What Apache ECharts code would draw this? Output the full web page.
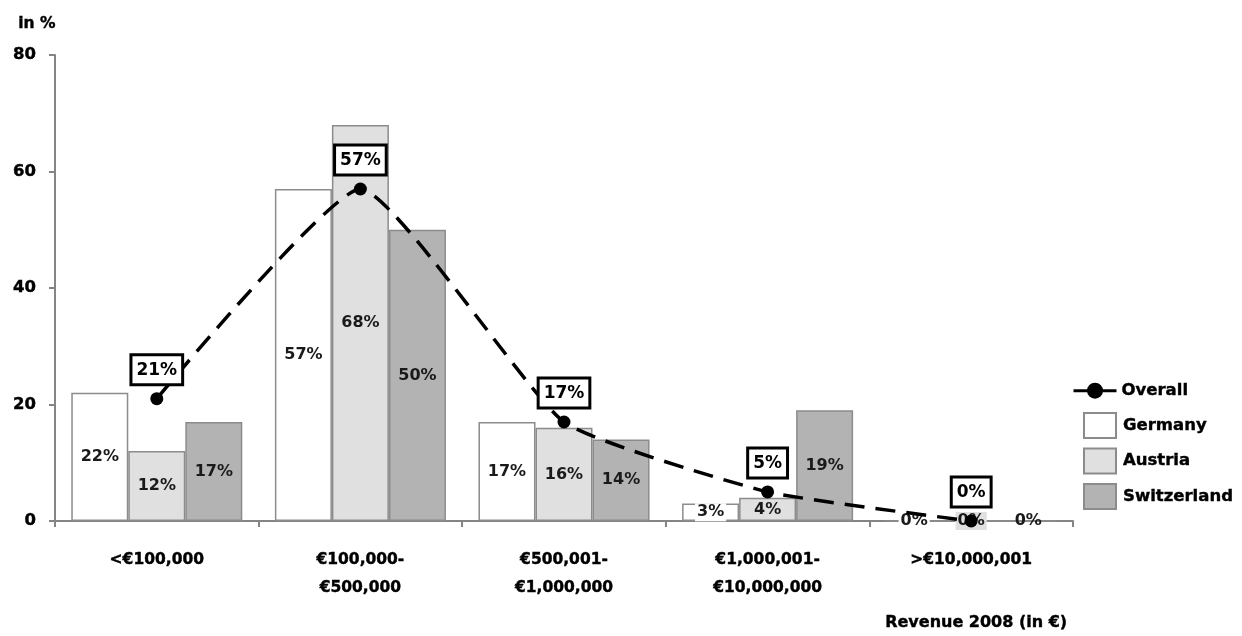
<!DOCTYPE html>
<html>
<head>
<meta charset="utf-8">
<script src="https://cdn.jsdelivr.net/npm/echarts@6/dist/echarts.min.js"></script>
<style>
  html, body { margin: 0; padding: 0; background: #fff; }
  #chart { width: 1242px; height: 636px; }
</style>
</head>
<body>
<div id="chart"></div>
<script>
// Revenue bands (x axis categories)
const categories = ['<€100,000', '€100,000-\n€500,000', '€500,001-\n€1,000,000', '€1,000,001-\n€10,000,000', '>€10,000,001'];
// Shares in % per country
const germany = [22, 57, 17, 3, 0];
const austria = [12, 68, 16, 4, 0];
const switzerland = [17, 50, 14, 19, 0];
// Overall share in %
const overall = [21, 57, 17, 5, 0];
// Y axis ticks
const yTicks = [0, 20, 40, 60, 80];

const FONT = '"DejaVu Sans", Verdana, sans-serif';
const BORDER = '#8c8c8c';
const AXIS_COLOR = '#858585';

function barSeries(name, data, color, labelBg) {
  return {
    name: name,
    type: 'bar',
    data: data,
    barGap: '0%',
    barCategoryGap: '16%',
    itemStyle: { color: color, borderColor: BORDER, borderWidth: 1.5 },
    label: {
      show: true,
      position: 'inside',
      formatter: p => p.value + '%',
      fontFamily: FONT,
      fontWeight: 'bold',
      fontSize: 16,
      color: '#1a1a1a',
      backgroundColor: labelBg,
      padding: [1, 2]
    },
    emphasis: { disabled: true }
  };
}

const chart = echarts.init(document.getElementById('chart'), null, { renderer: 'canvas' });

chart.setOption({
  animation: false,
  backgroundColor: '#ffffff',
  grid: { left: 55, right: 169, top: 55, bottom: 115, outerBoundsMode: 'none' },
  xAxis: {
    type: 'category',
    data: categories,
    axisLine: { lineStyle: { color: AXIS_COLOR, width: 2 } },
    axisTick: { show: true, length: 6, lineStyle: { color: AXIS_COLOR, width: 2 } },
    axisLabel: {
      margin: 25,
      fontFamily: FONT,
      fontWeight: 'bold',
      fontSize: 15.5,
      lineHeight: 28,
      color: '#000',
      textBorderColor: '#000',
      textBorderWidth: 0.4
    }
  },
  yAxis: {
    type: 'value',
    min: yTicks[0],
    max: yTicks[yTicks.length - 1],
    interval: yTicks[1] - yTicks[0],
    axisLine: { show: true, lineStyle: { color: AXIS_COLOR, width: 2 } },
    axisTick: { show: true, length: 6, lineStyle: { color: AXIS_COLOR, width: 2 } },
    splitLine: { show: false },
    axisLabel: {
      margin: 19,
      fontFamily: FONT,
      fontWeight: 'bold',
      fontSize: 16.5,
      color: '#000',
      textBorderColor: '#000',
      textBorderWidth: 0.4
    }
  },
  legend: [
    {
      orient: 'vertical',
      left: 1067,
      top: 377,
      itemWidth: 43,
      itemHeight: 20,
      selectedMode: false,
      textStyle: { fontFamily: FONT, fontWeight: 'bold', fontSize: 16.5, color: '#000', textBorderColor: '#000', textBorderWidth: 0.4 },
      data: [{ name: 'Overall', lineStyle: { type: 'solid', width: 3, color: '#000' } }]
    },
    {
      orient: 'vertical',
      left: 1078,
      top: 407,
      itemWidth: 32,
      itemHeight: 25,
      itemGap: 8.5,
      icon: 'rect',
      selectedMode: false,
      textStyle: { fontFamily: FONT, fontWeight: 'bold', fontSize: 16.5, color: '#000', textBorderColor: '#000', textBorderWidth: 0.4, padding: [0, 0, 0, 2] },
      data: ['Germany', 'Austria', 'Switzerland']
    }
  ],
  graphic: [
    {
      type: 'text', left: 18, top: 16,
      style: { text: 'in %', fontFamily: FONT, fontWeight: 'bold', fontSize: 15.5, fill: '#000', stroke: '#000', lineWidth: 0.4 }
    },
    {
      type: 'text', left: 885, top: 615,
      style: { text: 'Revenue 2008 (in €)', fontFamily: FONT, fontWeight: 'bold', fontSize: 16, fill: '#000', stroke: '#000', lineWidth: 0.4 }
    }
  ],
  series: [
    barSeries('Germany', germany, '#ffffff', '#ffffff'),
    barSeries('Austria', austria, '#e0e0e0', '#e0e0e0'),
    barSeries('Switzerland', switzerland, '#b3b3b3', 'transparent'),
    {
      name: 'Overall',
      type: 'line',
      data: overall,
      smooth: 0.15,
      symbol: 'circle',
      symbolSize: 13,
      itemStyle: { color: '#000' },
      lineStyle: { color: '#000', width: 3.5, type: [20, 11] },
      label: {
        show: true,
        position: 'top',
        distance: 9,
        formatter: p => p.value + '%',
        fontFamily: FONT,
        fontWeight: 'bold',
        fontSize: 17,
        color: '#000',
        backgroundColor: '#fff',
        borderColor: '#000',
        borderWidth: 3,
        padding: [6, 4, 4, 4]
      },
      emphasis: { disabled: true }
    }
  ]
});
</script>
</body>
</html>
